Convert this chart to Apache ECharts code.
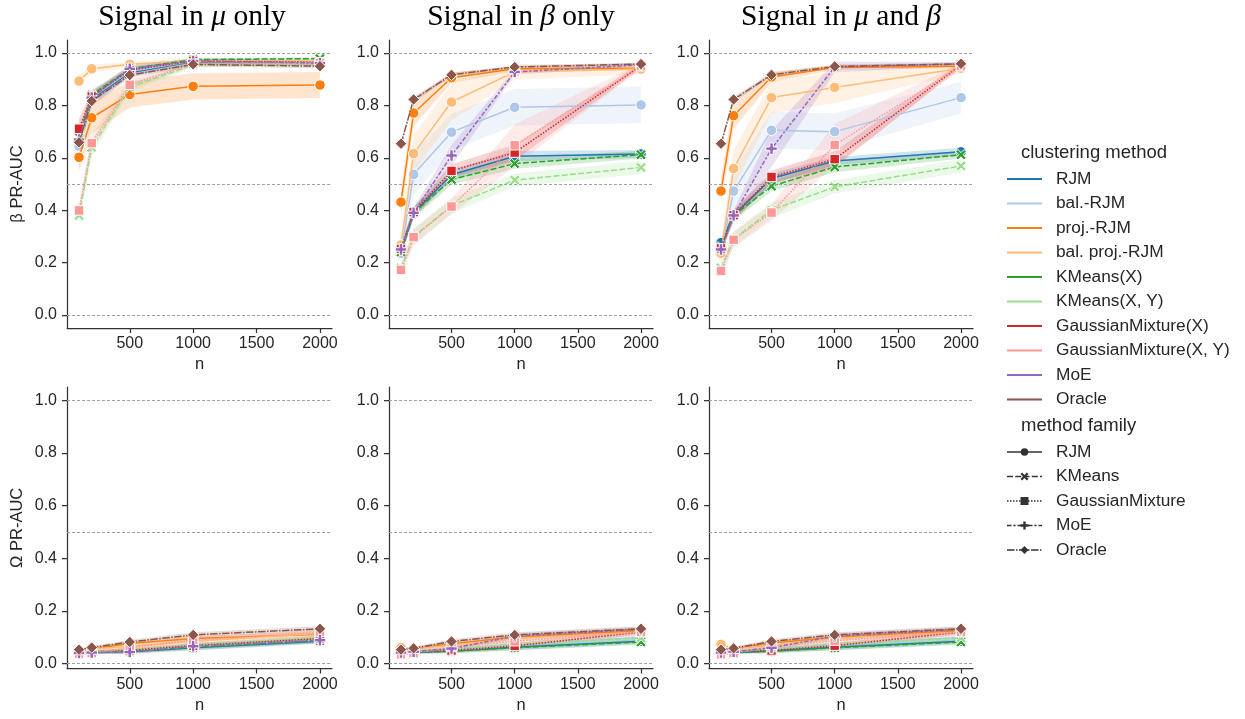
<!DOCTYPE html>
<html>
<head>
<meta charset="utf-8">
<script src="https://cdn.jsdelivr.net/npm/echarts@6/dist/echarts.min.js"></script>
<style>
html,body{margin:0;padding:0;background:#fff;}
#chart{width:1245px;height:719px;}
</style>
</head>
<body>
<div id="chart"></div>
<script>
// ---------------- data ----------------
const nVals = [100, 200, 500, 1000, 2000];
const methods = ['RJM', 'bal.-RJM', 'proj.-RJM', 'bal. proj.-RJM', 'KMeans(X)', 'KMeans(X, Y)',
  'GaussianMixture(X)', 'GaussianMixture(X, Y)', 'MoE', 'Oracle'];
const methodFamily = ['RJM', 'RJM', 'RJM', 'RJM', 'KMeans', 'KMeans', 'GaussianMixture', 'GaussianMixture', 'MoE', 'Oracle'];
const families = ['RJM', 'KMeans', 'GaussianMixture', 'MoE', 'Oracle'];
const colors = ['#1f77b4', '#aec7e8', '#ff7f0e', '#ffbb78', '#2ca02c', '#98df8a', '#d62728', '#ff9896', '#9467bd', '#8c564b'];
const panelTitles = ['Signal in {i|μ} only', 'Signal in {i|β} only', 'Signal in {i|μ} and {i|β}'];
const rowLabels = ['β PR-AUC', 'Ω PR-AUC'];
const xTicks = [500, 1000, 1500, 2000];
const yTicks = [0, 0.2, 0.4, 0.6, 0.8, 1.0];
const refLines = [0, 0.5, 1.0];

// beta PR-AUC, rows in method order
const betaMuOnly = [
  [0.647, 0.825, 0.925, 0.968, 0.965],
  [0.645, 0.830, 0.930, 0.970, 0.965],
  [0.602, 0.753, 0.842, 0.873, 0.878],
  [0.893, 0.940, 0.957, 0.972, 0.968],
  [0.679, 0.840, 0.940, 0.975, 0.979],
  [0.380, 0.640, 0.870, 0.955, 0.960],
  [0.711, 0.834, 0.935, 0.970, 0.965],
  [0.399, 0.656, 0.879, 0.960, 0.962],
  [0.670, 0.830, 0.940, 0.970, 0.962],
  [0.659, 0.817, 0.916, 0.957, 0.950]
];
const betaBetaOnly = [
  [0.240, 0.390, 0.535, 0.606, 0.615],
  [0.235, 0.537, 0.698, 0.793, 0.802],
  [0.431, 0.771, 0.906, 0.940, 0.942],
  [0.267, 0.616, 0.813, 0.928, 0.939],
  [0.240, 0.390, 0.517, 0.578, 0.612],
  [0.180, 0.300, 0.417, 0.515, 0.563],
  [0.252, 0.393, 0.550, 0.620, 0.952],
  [0.172, 0.297, 0.414, 0.648, 0.950],
  [0.250, 0.390, 0.609, 0.928, 0.955],
  [0.654, 0.823, 0.917, 0.947, 0.958]
];
const betaBoth = [
  [0.276, 0.380, 0.521, 0.588, 0.623],
  [0.240, 0.473, 0.705, 0.700, 0.830],
  [0.473, 0.761, 0.909, 0.945, 0.950],
  [0.235, 0.559, 0.830, 0.869, 0.942],
  [0.260, 0.380, 0.492, 0.565, 0.612],
  [0.180, 0.290, 0.400, 0.489, 0.569],
  [0.254, 0.381, 0.527, 0.595, 0.955],
  [0.168, 0.287, 0.391, 0.649, 0.950],
  [0.250, 0.380, 0.635, 0.947, 0.958],
  [0.654, 0.823, 0.917, 0.949, 0.959]
];
// Omega PR-AUC
const omegaMuOnly = [
  [0.040, 0.042, 0.045, 0.060, 0.085],
  [0.042, 0.044, 0.048, 0.065, 0.090],
  [0.050, 0.055, 0.076, 0.095, 0.111],
  [0.052, 0.055, 0.065, 0.085, 0.115],
  [0.041, 0.043, 0.047, 0.062, 0.087],
  [0.042, 0.045, 0.052, 0.070, 0.099],
  [0.042, 0.045, 0.050, 0.068, 0.095],
  [0.038, 0.040, 0.060, 0.090, 0.120],
  [0.040, 0.042, 0.044, 0.066, 0.089],
  [0.053, 0.061, 0.082, 0.109, 0.132]
];
const omegaBetaOnly = [
  [0.040, 0.042, 0.048, 0.062, 0.085],
  [0.045, 0.047, 0.050, 0.070, 0.100],
  [0.050, 0.055, 0.075, 0.100, 0.125],
  [0.061, 0.055, 0.070, 0.095, 0.120],
  [0.040, 0.043, 0.047, 0.060, 0.082],
  [0.042, 0.045, 0.055, 0.075, 0.097],
  [0.042, 0.045, 0.050, 0.067, 0.120],
  [0.035, 0.040, 0.063, 0.085, 0.120],
  [0.042, 0.045, 0.057, 0.104, 0.130],
  [0.053, 0.058, 0.084, 0.109, 0.132]
];
const omegaBoth = [
  [0.040, 0.042, 0.048, 0.062, 0.085],
  [0.045, 0.047, 0.055, 0.070, 0.100],
  [0.050, 0.055, 0.078, 0.100, 0.125],
  [0.073, 0.055, 0.070, 0.095, 0.120],
  [0.040, 0.043, 0.047, 0.060, 0.082],
  [0.042, 0.045, 0.055, 0.075, 0.097],
  [0.042, 0.045, 0.050, 0.068, 0.120],
  [0.035, 0.040, 0.063, 0.087, 0.120],
  [0.042, 0.045, 0.060, 0.104, 0.130],
  [0.053, 0.058, 0.084, 0.109, 0.132]
];
// confidence band half-widths (estimated)
const betaMuOnlyErr = [
  [0.03, 0.02, 0.015, 0.008, 0.008],
  [0.03, 0.02, 0.015, 0.008, 0.008],
  [0.05, 0.06, 0.050, 0.050, 0.050],
  [0.02, 0.015, 0.010, 0.008, 0.008],
  [0.03, 0.02, 0.010, 0.005, 0.005],
  [0.03, 0.03, 0.020, 0.010, 0.008],
  [0.04, 0.02, 0.010, 0.005, 0.005],
  [0.03, 0.03, 0.020, 0.010, 0.008],
  [0.03, 0.02, 0.015, 0.008, 0.008],
  [0.03, 0.02, 0.010, 0.008, 0.008]
];
const betaBetaOnlyErr = [
  [0.02, 0.02, 0.020, 0.020, 0.015],
  [0.03, 0.08, 0.070, 0.070, 0.070],
  [0.05, 0.05, 0.020, 0.010, 0.008],
  [0.04, 0.07, 0.070, 0.030, 0.020],
  [0.02, 0.02, 0.020, 0.020, 0.015],
  [0.02, 0.03, 0.030, 0.025, 0.025],
  [0.02, 0.02, 0.025, 0.030, 0.010],
  [0.02, 0.03, 0.030, 0.080, 0.010],
  [0.02, 0.02, 0.040, 0.010, 0.008],
  [0.01, 0.01, 0.008, 0.006, 0.005]
];
const betaBothErr = [
  [0.02, 0.02, 0.020, 0.015, 0.015],
  [0.03, 0.08, 0.070, 0.070, 0.060],
  [0.05, 0.05, 0.020, 0.010, 0.008],
  [0.04, 0.07, 0.060, 0.060, 0.020],
  [0.02, 0.02, 0.020, 0.020, 0.015],
  [0.02, 0.03, 0.030, 0.025, 0.025],
  [0.02, 0.02, 0.025, 0.030, 0.010],
  [0.02, 0.03, 0.030, 0.080, 0.010],
  [0.02, 0.02, 0.070, 0.020, 0.008],
  [0.01, 0.01, 0.008, 0.006, 0.005]
];
const omegaErr = [0.006, 0.006, 0.008, 0.010, 0.010];

// ---------------- layout / styles ----------------
const FONT = "'Liberation Sans', Arial, sans-serif";
const SERIF = "'Liberation Serif', 'Times New Roman', serif";
const TXT = '#262626';
const panels = [
  {vals: betaMuOnly, err: betaMuOnlyErr},
  {vals: betaBetaOnly, err: betaBetaOnlyErr},
  {vals: betaBoth, err: betaBothErr},
  {vals: omegaMuOnly, err: null},
  {vals: omegaBetaOnly, err: null},
  {vals: omegaBoth, err: null}
];
const colLeft = [67, 389, 709];
const colWidth = [265, 264, 264];
const rowGeom = [
  {top: 40, height: 288, min: -0.05, max: 1.05},
  {top: 387, height: 281.6, min: -0.019, max: 1.05}
];
const XPATH = 'path://M0,2L2,0L5,3L8,0L10,2L7,5L10,8L8,10L5,7L2,10L0,8L3,5Z';
const PPATH = 'path://M3.5,0H6.5V3.5H10V6.5H6.5V10H3.5V6.5H0V3.5H3.5Z';
const familyStyle = {
  RJM: {dash: 'solid', symbol: 'circle', size: 10.5},
  KMeans: {dash: [6, 2.25], symbol: XPATH, size: 10.5},
  GaussianMixture: {dash: [1.5, 1.5], symbol: 'rect', size: 9.5},
  MoE: {dash: [4.5, 1.875, 2.25, 1.875], symbol: PPATH, size: 11.5},
  Oracle: {dash: [7.5, 1.5, 1.5, 1.5], symbol: 'diamond', size: 11.5}
};
// legend marker outlines on a 10x10 box
const famMarkerPts = {
  KMeans: [[0,2],[2,0],[5,3],[8,0],[10,2],[7,5],[10,8],[8,10],[5,7],[2,10],[0,8],[3,5]],
  GaussianMixture: [[0,0],[10,0],[10,10],[0,10]],
  MoE: [[3.5,0],[6.5,0],[6.5,3.5],[10,3.5],[10,6.5],[6.5,6.5],[6.5,10],[3.5,10],[3.5,6.5],[0,6.5],[0,3.5],[3.5,3.5]],
  Oracle: [[5,0],[10,5],[5,10],[0,5]]
};
function rgba(hex, a) {
  const r = parseInt(hex.slice(1, 3), 16), g = parseInt(hex.slice(3, 5), 16), b = parseInt(hex.slice(5, 7), 16);
  return `rgba(${r},${g},${b},${a})`;
}

const grid = [], xAxis = [], yAxis = [], series = [];
for (let p = 0; p < 6; p++) {
  const row = Math.floor(p / 3), col = p % 3;
  const rg = rowGeom[row];
  grid.push({left: colLeft[col], top: rg.top, width: colWidth[col], height: rg.height, containLabel: false});
  xAxis.push({
    type: 'value', gridIndex: p, min: 5, max: 2095,
    name: 'n', nameLocation: 'middle', nameGap: 28,
    nameTextStyle: {fontFamily: FONT, fontSize: 16.5, color: TXT},
    axisLine: {show: true, onZero: false, lineStyle: {color: '#333', width: 1.25}},
    axisTick: {show: true, length: 5, customValues: xTicks, lineStyle: {color: '#333', width: 1.25}},
    axisLabel: {customValues: xTicks, fontFamily: FONT, fontSize: 16, color: TXT, margin: 8,
      formatter: v => String(Math.round(v))},
    splitLine: {show: false}
  });
  yAxis.push({
    type: 'value', gridIndex: p, min: rg.min, max: rg.max,
    name: col === 0 ? rowLabels[row] : '', nameLocation: 'middle', nameGap: 41, nameRotate: 90,
    nameTextStyle: {fontFamily: FONT, fontSize: 16.5, color: TXT},
    axisLine: {show: true, onZero: false, lineStyle: {color: '#333', width: 1.25}},
    axisTick: {show: true, length: 5, customValues: yTicks, lineStyle: {color: '#333', width: 1.25}},
    axisLabel: {customValues: yTicks, fontFamily: FONT, fontSize: 16, color: TXT, margin: 10,
      formatter: v => Number(v).toFixed(1)},
    splitLine: {show: false}
  });
  const pd = panels[p];
  // bands
  for (let m = 0; m < methods.length; m++) {
    const vals = pd.vals[m];
    const errs = pd.err ? pd.err[m] : omegaErr;
    const lo = vals.map((v, i) => v - errs[i]);
    const hi = vals.map((v, i) => v + errs[i]);
    const fill = rgba(colors[m], 0.2);
    series.push({
      type: 'custom', xAxisIndex: p, yAxisIndex: p, silent: true, z: 1,
      data: nVals.map((x, i) => [x, lo[i], hi[i]]),
      encode: {x: 0, y: [1, 2]},
      renderItem: (params, api) => {
        if (params.dataIndex !== 0) return null;
        const pts = [];
        for (let i = 0; i < nVals.length; i++) pts.push(api.coord([nVals[i], lo[i]]));
        for (let i = nVals.length - 1; i >= 0; i--) pts.push(api.coord([nVals[i], hi[i]]));
        return {type: 'polygon', shape: {points: pts}, style: {fill: fill, stroke: null}};
      }
    });
  }
  // lines
  for (let m = 0; m < methods.length; m++) {
    const fs = familyStyle[methodFamily[m]];
    const s = {
      type: 'line', name: methods[m], xAxisIndex: p, yAxisIndex: p, z: 3 + m * 0.01,
      data: nVals.map((x, i) => [x, pd.vals[m][i]]),
      showSymbol: true, symbol: fs.symbol, symbolSize: fs.size, symbolKeepAspect: true,
      lineStyle: {color: colors[m], width: 1.5, type: fs.dash},
      itemStyle: {color: colors[m], borderColor: '#fff', borderWidth: 1},
      emphasis: {disabled: true}, silent: true
    };
    if (m === 0) {
      s.markLine = {
        silent: true, symbol: 'none', label: {show: false}, animation: false,
        lineStyle: {color: '#a0a0a0', width: 1, type: [3, 2]},
        data: refLines.map(v => ({yAxis: v}))
      };
    }
    series.push(s);
  }
}

// titles + legend as graphics
const graphic = [];
const titleCenters = [192, 521, 841];
for (let c = 0; c < 3; c++) {
  graphic.push({
    type: 'text', x: titleCenters[c], y: 17, silent: true,
    style: {
      text: panelTitles[c], align: 'center', verticalAlign: 'middle',
      fontFamily: SERIF, fontSize: 29.5, fill: '#000',
      rich: {i: {fontStyle: 'italic', fontFamily: SERIF, fontSize: 29.5, fill: '#000'}}
    }
  });
}
const legendRowH = 24.5;
const legTop = 153;
graphic.push({type: 'text', x: 1021, y: legTop, silent: true,
  style: {text: 'clustering method', fontFamily: FONT, fontSize: 18.5, fill: TXT, verticalAlign: 'middle'}});
for (let m = 0; m < methods.length; m++) {
  const y = legTop + 26 + m * legendRowH;
  graphic.push({type: 'line', silent: true, shape: {x1: 1007, y1: y, x2: 1042, y2: y},
    style: {stroke: colors[m], lineWidth: 2}});
  graphic.push({type: 'text', x: 1056, y: y, silent: true,
    style: {text: methods[m], fontFamily: FONT, fontSize: 17.3, fill: TXT, verticalAlign: 'middle'}});
}
const famTop = 426;
graphic.push({type: 'text', x: 1021, y: famTop, silent: true,
  style: {text: 'method family', fontFamily: FONT, fontSize: 18.5, fill: TXT, verticalAlign: 'middle'}});
for (let f = 0; f < families.length; f++) {
  const y = famTop + 26 + f * legendRowH;
  const fam = families[f];
  const fs = familyStyle[fam];
  graphic.push({type: 'line', silent: true, shape: {x1: 1007, y1: y, x2: 1042, y2: y},
    style: {stroke: '#333', lineWidth: 1.5, lineDash: fs.dash === 'solid' ? null : fs.dash}});
  if (fam === 'RJM') {
    graphic.push({type: 'circle', silent: true, shape: {cx: 1024.5, cy: y, r: 3.8}, style: {fill: '#333'}});
  } else {
    const sc = 0.8;
    const pts = famMarkerPts[fam].map(([a, b]) => [1024.5 + (a - 5) * sc, y + (b - 5) * sc]);
    graphic.push({type: 'polygon', silent: true, shape: {points: pts}, style: {fill: '#333'}});
  }
  graphic.push({type: 'text', x: 1056, y: y, silent: true,
    style: {text: fam, fontFamily: FONT, fontSize: 17.3, fill: TXT, verticalAlign: 'middle'}});
}

const chart = echarts.init(document.getElementById('chart'), null, {renderer: 'canvas'});
chart.setOption({
  animation: false,
  backgroundColor: '#fff',
  grid, xAxis, yAxis, series, graphic
});
</script>
</body>
</html>
